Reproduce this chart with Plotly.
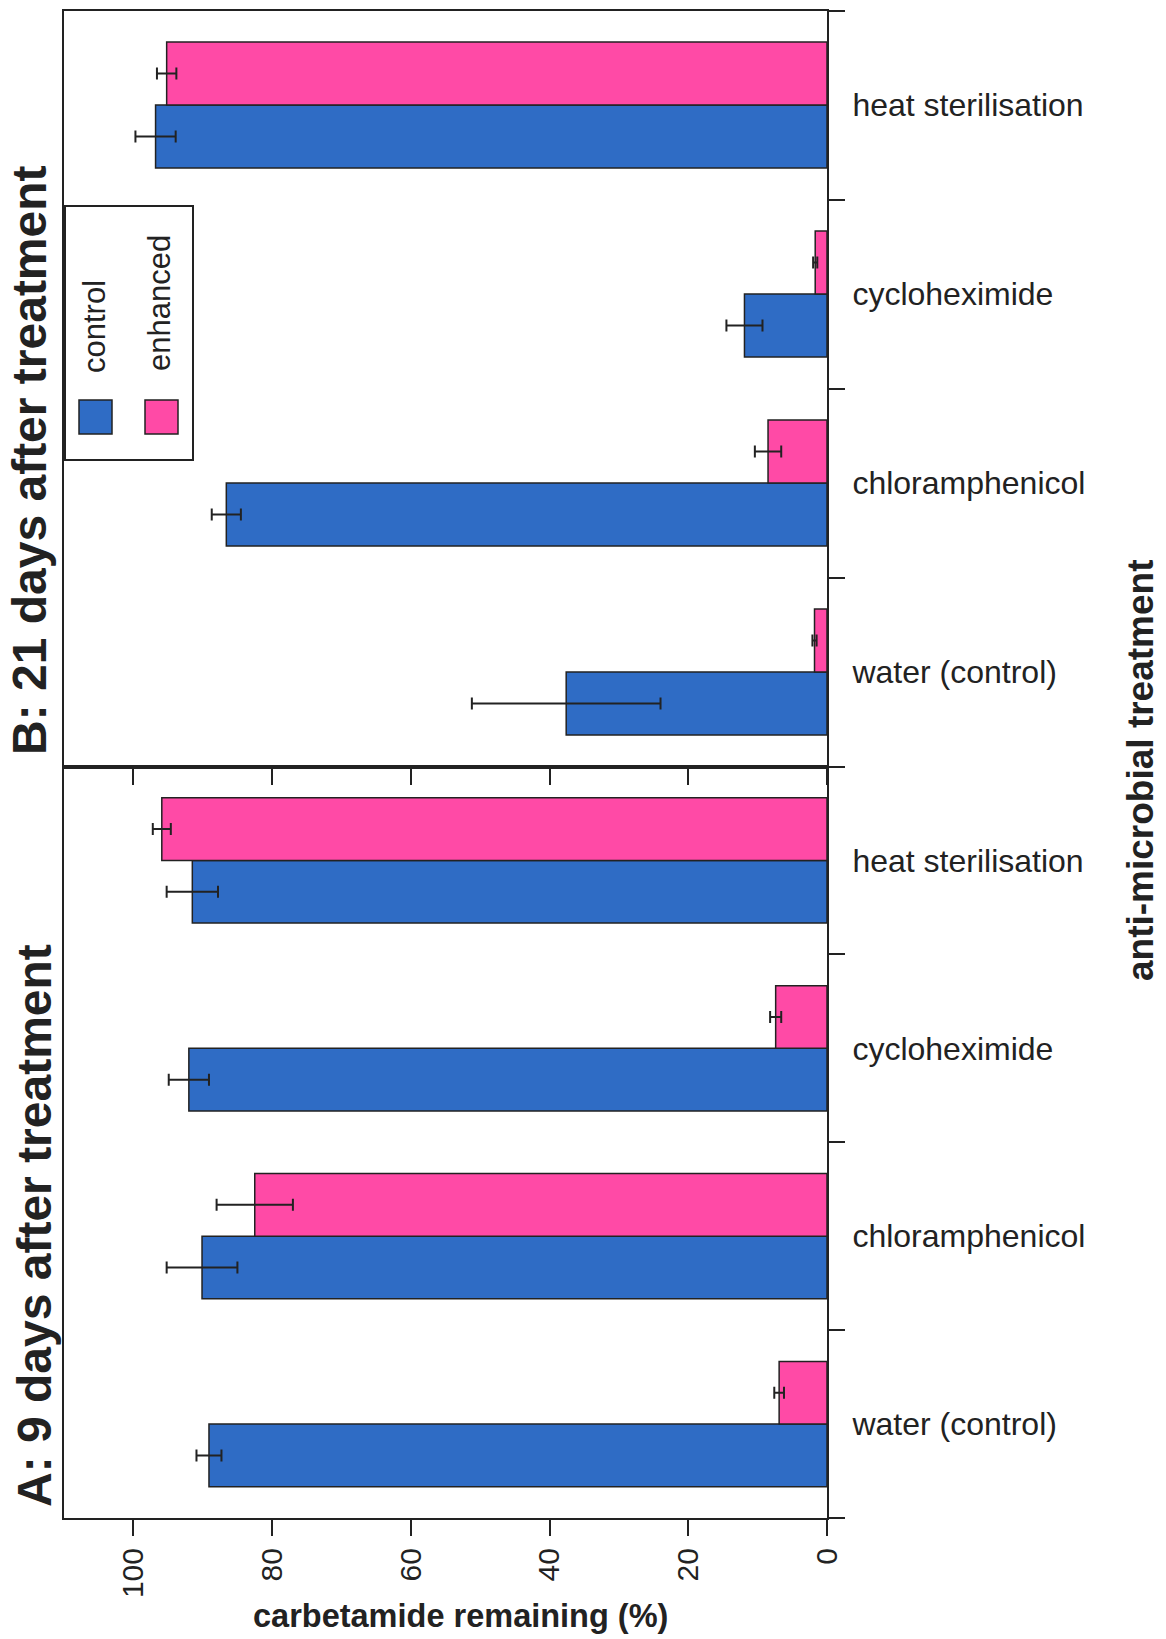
import plotly.graph_objects as go

W, H = 1166, 1639

categories = ["water (control)", "chloramphenicol", "cycloheximide", "heat sterilisation"]

# Panel A: 9 days after treatment
a_control = [89.1, 90.1, 92.0, 91.5]
a_control_err = [1.8, 5.1, 2.9, 3.7]
a_enhanced = [6.9, 82.5, 7.4, 95.9]
a_enhanced_err = [0.7, 5.5, 0.8, 1.3]

# Panel B: 21 days after treatment
b_control = [37.6, 86.6, 11.9, 96.8]
b_control_err = [13.6, 2.1, 2.6, 2.9]
b_enhanced = [1.8, 8.5, 1.7, 95.2]
b_enhanced_err = [0.3, 1.9, 0.3, 1.4]

series_names = ["control", "enhanced"]
x_ticks = [0, 20, 40, 60, 80, 100]

BLUE = "#2f6cc5"
PINK = "#ff4aa6"
INK = "#222222"
FONT = "Liberation Sans, Arial, sans-serif"


def px(x):
    return x / W


def py(y):
    return 1 - y / H


fig = go.Figure()


def add_bars(vals, errs, name, color, xa, ya):
    fig.add_trace(go.Bar(
        y=categories, x=vals, orientation="h", name=name,
        marker=dict(color=color, line=dict(color=INK, width=1.5)),
        error_x=dict(type="data", array=errs, color=INK, thickness=2, width=6),
        xaxis=xa, yaxis=ya, showlegend=False,
    ))


add_bars(b_control, b_control_err, series_names[0], BLUE, "x", "y")
add_bars(b_enhanced, b_enhanced_err, series_names[1], PINK, "x", "y")
add_bars(a_control, a_control_err, series_names[0], BLUE, "x2", "y2")
add_bars(a_enhanced, a_enhanced_err, series_names[1], PINK, "x2", "y2")

left, right = 64, 827
top, sep, bottom = 10.5, 766.5, 1518

xcommon = dict(range=[110, 0], tickvals=x_ticks, ticks="outside", ticklen=16,
               tickwidth=1.5, tickcolor=INK, showline=True, linecolor=INK,
               linewidth=2, mirror=True, showgrid=False, zeroline=False,
               domain=[px(left), px(right)])
ycommon = dict(side="right", ticks="outside", tickson="boundaries", ticklen=16,
               tickwidth=1.5, tickcolor=INK, showline=True, linecolor=INK,
               linewidth=2, mirror=True, showgrid=False,
               tickfont=dict(size=32, color=INK, family=FONT), ticklabelstandoff=17)

fig.update_layout(
    width=W, height=H, autosize=False,
    margin=dict(l=0, r=0, t=0, b=0, autoexpand=False),
    paper_bgcolor="white", plot_bgcolor="white",
    barmode="group", bargap=0.333, bargroupgap=0,
    font=dict(family=FONT, color=INK),
    xaxis=dict(**xcommon, anchor="y", showticklabels=False),
    yaxis=dict(**ycommon, anchor="x", domain=[py(sep), py(top)]),
    xaxis2=dict(**xcommon, anchor="y2", showticklabels=True, tickangle=-90,
                tickfont=dict(size=30, color=INK, family=FONT)),
    yaxis2=dict(**ycommon, anchor="x2", domain=[py(bottom), py(sep)]),
)

ann = []
ann.append(dict(text="<b>B: 21 days after treatment</b>", x=px(29), y=py(460),
                textangle=-90, font=dict(size=48, color=INK)))
ann.append(dict(text="<b>A: 9 days after treatment</b>", x=px(34), y=py(1226),
                textangle=-90, font=dict(size=48, color=INK)))
ann.append(dict(text="<b>carbetamide remaining (%)</b>", x=px(460), y=py(1616),
                font=dict(size=32.5, color=INK)))
ann.append(dict(text="<b>anti-microbial treatment</b>", x=px(1140), y=py(771),
                textangle=-90, font=dict(size=37, color=INK)))
# manual rotated legend
ann.append(dict(text=series_names[0], x=px(95), y=py(327), textangle=-90,
                font=dict(size=31, color=INK)))
ann.append(dict(text=series_names[1], x=px(159), y=py(303), textangle=-90,
                font=dict(size=31, color=INK)))
for a in ann:
    a.update(xref="paper", yref="paper", showarrow=False, xanchor="center", yanchor="middle")
fig.update_layout(annotations=ann)

shapes = [
    dict(type="rect", x0=px(65), x1=px(193), y0=py(460), y1=py(206),
         line=dict(color=INK, width=2), fillcolor="white", layer="below"),
    dict(type="rect", x0=px(79), x1=px(112), y0=py(434), y1=py(400),
         line=dict(color=INK, width=1.5), fillcolor=BLUE),
    dict(type="rect", x0=px(145), x1=px(178), y0=py(434), y1=py(400),
         line=dict(color=INK, width=1.5), fillcolor=PINK),
]
for s in shapes:
    s.update(xref="paper", yref="paper")
fig.update_layout(shapes=shapes)

fig.write_html("out.html", config={"responsive": False})
